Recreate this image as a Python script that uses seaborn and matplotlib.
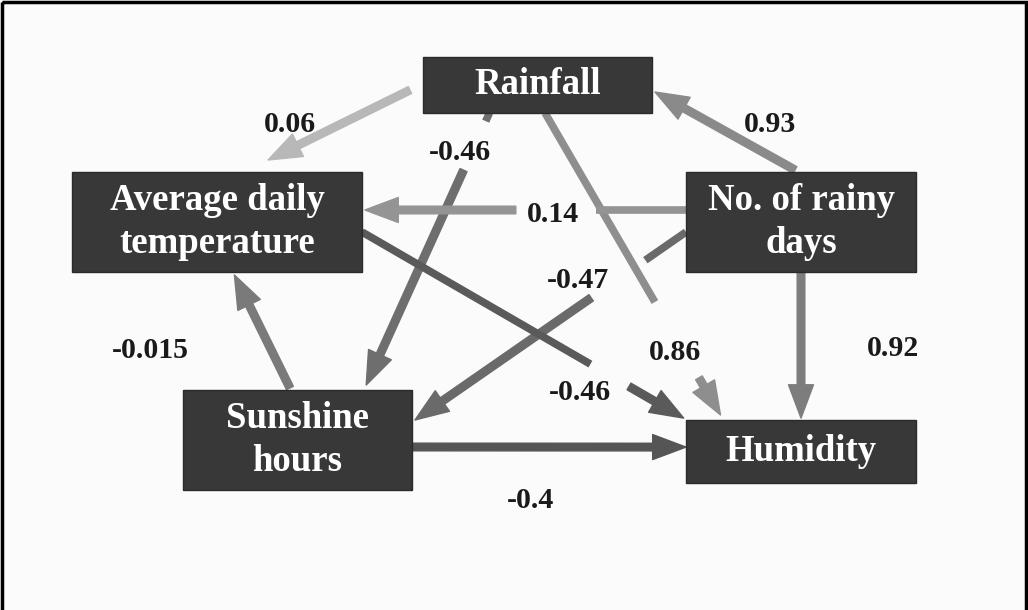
import matplotlib
matplotlib.use("Agg")
import matplotlib.pyplot as plt
import seaborn as sns
from matplotlib.patches import Rectangle, FancyArrowPatch

# Path diagram data
nodes = ["Rainfall", "Average daily\ntemperature", "No. of rainy\ndays", "Sunshine\nhours", "Humidity"]
edge_from = [0, 2, 0, 0, 2, 2, 1, 3, 3, 2]
edge_to = [1, 0, 3, 4, 1, 3, 4, 1, 4, 4]
coefs = [0.06, 0.93, -0.46, 0.86, 0.14, -0.47, -0.46, -0.015, -0.4, 0.92]

# Layout (pixel space, y down)
boxes = [(423, 57, 229, 56), (72, 172, 290, 100), (686, 172, 230, 100),
         (183, 390, 229, 100), (686, 420, 230, 63)]
# start/end anchors as fractions of the source/target box
anchors = [(-0.057, 0.59, 0.676, -0.12),
           (0.474, -0.02, 1.013, 0.625),
           (0.29, 1.0, 0.80, -0.05),
           (0.533, 1.0, 0.15, -0.08),
           (0.0, 0.38, 1.01, 0.38),
           (0.0, 0.60, 1.013, 0.30),
           (1.0, 0.60, -0.01, -0.03),
           (0.467, -0.02, 0.56, 1.03),
           (1.0, 0.57, 0.0, 0.43),
           (0.5, 1.0, 0.5, -0.03)]
gaps = [None, None, (0.03, 0.21), (0.626, 0.877), (0.28, 0.53),
        (0.15, 0.35), (0.71, 0.83), None, None, None]
edge_colors = ["#b8b8b8", "#8a8a8a", "#6e6e6e", "#8e8e8e", "#949494",
               "#6a6a6a", "#5a5a5a", "#7a7a7a", "#555555", "#7d7d7d"]
label_pos = [(290, 124), (770, 124), (460, 152), (675, 352), (553, 215),
             (578, 281), (580, 393), (150, 350), (530, 500), (893, 348)]

sns.set_theme(style="white")
plt.rcParams['font.family'] = ['Liberation Serif', 'DejaVu Serif']

fig = plt.figure(figsize=(10.28, 6.10), dpi=100, facecolor="#fbfbfb")
ax = fig.add_axes([0, 0, 1, 1])
ax.set_xlim(0, 1028)
ax.set_ylim(610, 0)
ax.axis("off")


def anchor_point(b, fx, fy):
    x0, y0, w, h = boxes[b]
    return (x0 + fx * w, y0 + fy * h)


arrow_style = "simple,head_length=1.0,head_width=0.75,tail_width=0.23"
for i in range(len(coefs)):
    sfx, sfy, tfx, tfy = anchors[i]
    p0 = anchor_point(edge_from[i], sfx, sfy)
    p1 = anchor_point(edge_to[i], tfx, tfy)
    c = edge_colors[i]
    start = p0
    if gaps[i] is not None:
        t0, t1 = gaps[i]
        pa = (p0[0] + t0 * (p1[0] - p0[0]), p0[1] + t0 * (p1[1] - p0[1]))
        start = (p0[0] + t1 * (p1[0] - p0[0]), p0[1] + t1 * (p1[1] - p0[1]))
        ax.plot([p0[0], pa[0]], [p0[1], pa[1]], color=c, lw=5.5,
                solid_capstyle="butt", zorder=2)
    arr = FancyArrowPatch(start, p1, arrowstyle=arrow_style, mutation_scale=24,
                          color=c, shrinkA=0, shrinkB=0, zorder=2)
    ax.add_patch(arr)
    ax.text(label_pos[i][0], label_pos[i][1], str(coefs[i]), ha="center",
            va="center", fontsize=21.5, fontweight="bold", color="#1a1a1a", zorder=4)

for name, (x0, y0, w, h) in zip(nodes, boxes):
    ax.add_patch(Rectangle((x0, y0), w, h, facecolor="#383838",
                           edgecolor="#2a2a2a", lw=1, zorder=3))
    ax.text(x0 + w / 2, y0 + h / 2, name, ha="center", va="center",
            fontsize=26.5, fontweight="bold", color="white",
            linespacing=1.28, zorder=4)

# outer frame
ax.add_patch(Rectangle((1.5, 1.5), 1024.5, 640, fill=False,
                       edgecolor="black", lw=2.5, zorder=5, clip_on=False))

fig.savefig("out.png", dpi=100, facecolor=fig.get_facecolor())
